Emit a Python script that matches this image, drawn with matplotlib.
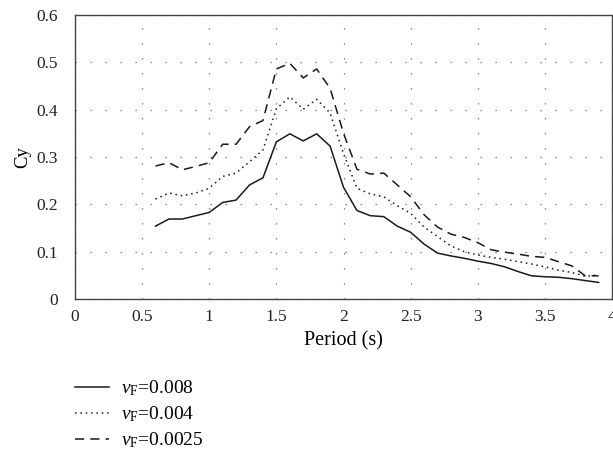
import matplotlib.pyplot as plt

plt.rcParams.update({
    "font.family": "Liberation Serif",
    "mathtext.fontset": "custom",
    "mathtext.rm": "Liberation Serif",
    "mathtext.it": "Liberation Serif:italic",
    "font.size": 12,
})

# ---- values ---------------------------------------------------------------
period = [0.6, 0.7, 0.8, 0.9, 1.0, 1.1, 1.2, 1.3, 1.4, 1.5, 1.6, 1.7, 1.8, 1.9,
          2.0, 2.1, 2.2, 2.3, 2.4, 2.5, 2.6, 2.7, 2.8, 2.9, 3.0, 3.1, 3.2, 3.3,
          3.4, 3.5, 3.6, 3.7, 3.8, 3.9]
cy_008 = [0.154, 0.169, 0.169, 0.176, 0.183, 0.204, 0.209, 0.241, 0.256, 0.332,
          0.349, 0.334, 0.349, 0.323, 0.236, 0.187, 0.176, 0.174, 0.154, 0.141,
          0.116, 0.097, 0.091, 0.086, 0.080, 0.075, 0.068, 0.058, 0.049, 0.047,
          0.046, 0.043, 0.039, 0.035]
cy_004 = [0.211, 0.224, 0.218, 0.224, 0.234, 0.259, 0.266, 0.290, 0.315, 0.402,
          0.427, 0.401, 0.422, 0.393, 0.307, 0.234, 0.222, 0.216, 0.197, 0.181,
          0.152, 0.132, 0.112, 0.100, 0.093, 0.088, 0.084, 0.079, 0.074, 0.068,
          0.061, 0.056, 0.048, 0.051]
cy_0025 = [0.281, 0.288, 0.273, 0.280, 0.288, 0.327, 0.327, 0.364, 0.377, 0.486,
           0.498, 0.467, 0.486, 0.445, 0.350, 0.274, 0.264, 0.266, 0.241, 0.216,
           0.178, 0.152, 0.137, 0.130, 0.119, 0.104, 0.099, 0.095, 0.090, 0.088,
           0.079, 0.070, 0.049, 0.049]
labels = [r"$\nu_{\mathrm{F}}$=0.008", r"$\nu_{\mathrm{F}}$=0.004", r"$\nu_{\mathrm{F}}$=0.0025"]
xticks = [0, 0.5, 1, 1.5, 2, 2.5, 3, 3.5, 4]
xticklabels = ["0", "0.5", "1", "1.5", "2", "2.5", "3", "3.5", "4"]
yticks = [0, 0.1, 0.2, 0.3, 0.4, 0.5, 0.6]
yticklabels = ["0", "0.1", "0.2", "0.3", "0.4", "0.5", "0.6"]

fig = plt.figure(figsize=(6.13, 4.57), dpi=100)
ax = fig.add_axes([0.1223, 0.3457, 0.8762, 0.6215])

lc = "#1a1a1a"
ax.plot(period, cy_008, color=lc, lw=1.1, ls="-", label=labels[0])
ax.plot(period, cy_004, color=lc, lw=1.1, ls=(0, (1, 2.5)), label=labels[1])
ax.plot(period, cy_0025, color=lc, lw=1.1, ls=(0, (6, 4)), label=labels[2])

ax.set_xlim(0, 4)
ax.set_ylim(0, 0.6)
ax.set_xticks(xticks, xticklabels)
ax.set_yticks(yticks, yticklabels)
ax.tick_params(axis="y", length=0, pad=12, labelsize=12.5, colors="#222222")
ax.tick_params(axis="x", length=0, pad=7, labelsize=12.5, colors="#222222")
ax.grid(True, color="#666666", ls=(0, (1, 11)), lw=0.9)
for s in ax.spines.values():
    s.set_color("#444444")
    s.set_linewidth(1.0)

ax.set_xlabel("Period (s)", fontsize=14.5, labelpad=5)
ax.set_ylabel("Cy", fontsize=13.5, labelpad=4)

fig.legend(loc="upper left", bbox_to_anchor=(0.094, 0.21), frameon=False,
           handlelength=1.75, handletextpad=0.6, labelspacing=0.33, fontsize=14)

fig.savefig("out.png", dpi=100)
